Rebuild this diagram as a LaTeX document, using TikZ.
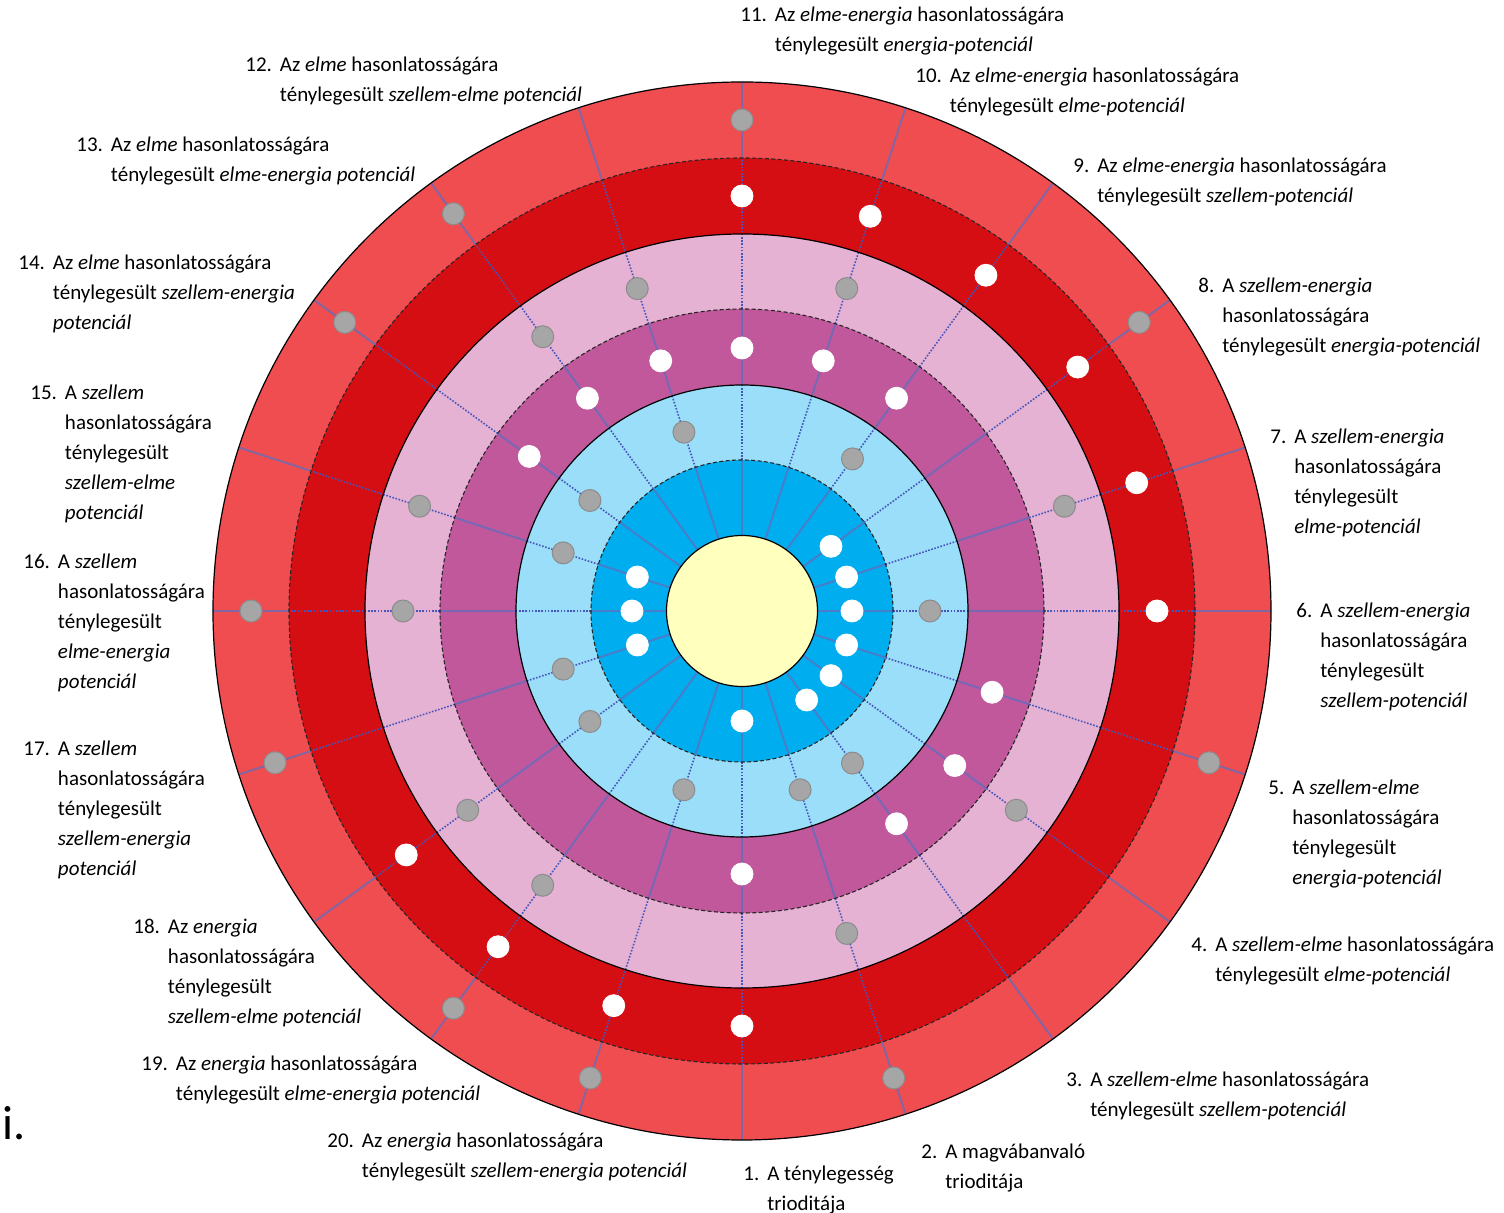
\documentclass[tikz,border=0pt]{standalone}
\usepackage{fontspec}
\setmainfont{Carlito}
\usetikzlibrary{positioning}

\definecolor{colRedOut}{RGB}{240,77,81}
\definecolor{colRedIn}{RGB}{213,14,19}
\definecolor{colPink}{RGB}{229,178,211}
\definecolor{colMagenta}{RGB}{193,88,156}
\definecolor{colSky}{RGB}{154,222,249}
\definecolor{colBlue}{RGB}{0,174,239}
\definecolor{colCore}{RGB}{255,255,190}
\definecolor{spokecol}{RGB}{95,110,190}
\definecolor{spokedotcol}{RGB}{70,85,185}
\definecolor{dotgray}{RGB}{166,166,166}
\definecolor{dotgrayedge}{RGB}{140,140,140}

\begin{document}
\begin{tikzpicture}[
      x=0.5pt, y=0.5pt,
      ring/.style={draw=black, line width=0.6pt},
      dashring/.style={
         draw=black!85,
         line width=0.55pt,
         dash pattern=on 2pt off 1.2pt
      },
      spokefull/.style={draw=spokecol, draw opacity=0.75, line width=1pt},
      spokedot/.style={
         draw=spokedotcol,
         line width=0.8pt,
         dash pattern=on 0.8pt off 0.8pt
      },
      gdot/.style={
         circle,
         inner sep=0pt,
         minimum size=11pt,
         fill=dotgray,
         draw=dotgrayedge,
         line width=0.5pt
      },
      wdot/.style={
         circle,
         inner sep=0pt,
         minimum size=11pt,
         fill=white,
         draw=white
      },
      lab/.style={
         anchor=base west,
         inner sep=0pt,
         font=\fontsize{10.5}{15}\selectfont
      }
    ]
    \useasboundingbox (-742,-602) rectangle (762,611);

    % rings, from the outside in
    \fill[colRedOut]  (0,0) circle (529);
    \fill[colRedIn]   (0,0) circle (453);
    \fill[colPink]    (0,0) circle (377);
    \fill[colMagenta] (0,0) circle (302);
    \fill[colSky]     (0,0) circle (226);
    \fill[colBlue]    (0,0) circle (151);

    % the 20 spokes
    \foreach \k in {1,...,20} {
      \pgfmathsetmacro\a{270+(\k-1)*18}
      \draw[spokefull] (\a:75.5) -- (\a:151);
      \draw[spokedot]  (\a:151)  -- (\a:226);
      \draw[spokefull] (\a:226)  -- (\a:302);
      \draw[spokedot]  (\a:302)  -- (\a:453);
      \draw[spokefull] (\a:453)  -- (\a:529);
    }

    \draw[ring]     (0,0) circle (529);
    \draw[dashring] (0,0) circle (453);
    \draw[ring]     (0,0) circle (377);
    \draw[dashring] (0,0) circle (302);
    \draw[ring]     (0,0) circle (226);
    \draw[dashring] (0,0) circle (151);
    \node (core) [circle, draw=black, line width=0.6pt, fill=colCore,
                  inner sep=0pt, minimum size=75.5pt] at (0,0) {};

    % dots on the spokes
    \foreach \k in {2,5,8,11,13,14,16,17,19,20}
      \node (o\k) [gdot] at ({270+(\k-1)*18}:491) {};
    \foreach \k in {1,6,7,8,9,10,11,18,19,20}
      \node (r\k) [wdot] at ({270+(\k-1)*18}:415) {};
    \foreach \k in {2,4,7,10,12,13,15,16,18,19}
      \node (p\k) [gdot] at ({270+(\k-1)*18}:339) {};
    \foreach \k in {1,3,4,5,9,10,11,12,13,14}
      \node (m\k) [wdot] at ({270+(\k-1)*18}:263) {};
    \foreach \k in {2,3,6,9,12,14,15,17,18,20}
      \node (s\k) [gdot] at ({270+(\k-1)*18}:188) {};
    \foreach \k in {1,3,4,5,6,7,8,15,16,17}
      \node (b\k) [wdot] at ({270+(\k-1)*18}:110) {};

    % labels
    \node (l1) [lab] at (1,-569) {\begin{tabular}[t]{@{}l@{\hspace{4pt}}l@{}}1. & A ténylegesség\\ & trioditája\end{tabular}};
    \node (l2) [lab] at (179,-547) {\begin{tabular}[t]{@{}l@{\hspace{4pt}}l@{}}2. & A magvábanvaló\\ & trioditája\end{tabular}};
    \node (l3) [lab] at (324,-476) {\begin{tabular}[t]{@{}l@{\hspace{4pt}}l@{}}3. & A \emph{szellem-elme} hasonlatosságára\\ & ténylegesült \emph{szellem-potenciál}\end{tabular}};
    \node (l4) [lab] at (449,-341) {\begin{tabular}[t]{@{}l@{\hspace{4pt}}l@{}}4. & A \emph{szellem-elme} hasonlatosságára\\ & ténylegesült \emph{elme-potenciál}\end{tabular}};
    \node (l5) [lab] at (526,-184) {\begin{tabular}[t]{@{}l@{\hspace{4pt}}l@{}}5. & A \emph{szellem-elme}\\ & hasonlatosságára\\ & ténylegesült\\ & \emph{energia-potenciál}\end{tabular}};
    \node (l6) [lab] at (554,-7) {\begin{tabular}[t]{@{}l@{\hspace{4pt}}l@{}}6. & A \emph{szellem-energia}\\ & hasonlatosságára\\ & ténylegesült\\ & \emph{szellem-potenciál}\end{tabular}};
    \node (l7) [lab] at (528,167) {\begin{tabular}[t]{@{}l@{\hspace{4pt}}l@{}}7. & A \emph{szellem-energia}\\ & hasonlatosságára\\ & ténylegesült\\ & \emph{elme-potenciál}\end{tabular}};
    \node (l8) [lab] at (456,318) {\begin{tabular}[t]{@{}l@{\hspace{4pt}}l@{}}8. & A \emph{szellem-energia}\\ & hasonlatosságára\\ & ténylegesült \emph{energia-potenciál}\end{tabular}};
    \node (l9) [lab] at (331,438) {\begin{tabular}[t]{@{}l@{\hspace{4pt}}l@{}}9. & Az \emph{elme-energia} hasonlatosságára\\ & ténylegesült \emph{szellem-potenciál}\end{tabular}};
    \node (l10) [lab] at (173,528) {\begin{tabular}[t]{@{}l@{\hspace{4pt}}l@{}}10. & Az \emph{elme-energia} hasonlatosságára\\ & ténylegesült \emph{elme-potenciál}\end{tabular}};
    \node (l11) [lab] at (-2,589) {\begin{tabular}[t]{@{}l@{\hspace{4pt}}l@{}}11. & Az \emph{elme-energia} hasonlatosságára\\ & ténylegesült \emph{energia-potenciál}\end{tabular}};
    \node (l12) [lab] at (-497,539) {\begin{tabular}[t]{@{}l@{\hspace{4pt}}l@{}}12. & Az \emph{elme} hasonlatosságára\\ & ténylegesült \emph{szellem-elme potenciál}\end{tabular}};
    \node (l13) [lab] at (-666,459) {\begin{tabular}[t]{@{}l@{\hspace{4pt}}l@{}}13. & Az \emph{elme} hasonlatosságára\\ & ténylegesült \emph{elme-energia potenciál}\end{tabular}};
    \node (l14) [lab] at (-724,341) {\begin{tabular}[t]{@{}l@{\hspace{4pt}}l@{}}14. & Az \emph{elme} hasonlatosságára\\ & ténylegesült \emph{szellem-energia}\\ & \emph{potenciál}\end{tabular}};
    \node (l15) [lab] at (-712,211) {\begin{tabular}[t]{@{}l@{\hspace{4pt}}l@{}}15. & A \emph{szellem}\\ & hasonlatosságára\\ & ténylegesült\\ & \emph{szellem-elme}\\ & \emph{potenciál}\end{tabular}};
    \node (l16) [lab] at (-719,42) {\begin{tabular}[t]{@{}l@{\hspace{4pt}}l@{}}16. & A \emph{szellem}\\ & hasonlatosságára\\ & ténylegesült\\ & \emph{elme-energia}\\ & \emph{potenciál}\end{tabular}};
    \node (l17) [lab] at (-719,-145) {\begin{tabular}[t]{@{}l@{\hspace{4pt}}l@{}}17. & A \emph{szellem}\\ & hasonlatosságára\\ & ténylegesült\\ & \emph{szellem-energia}\\ & \emph{potenciál}\end{tabular}};
    \node (l18) [lab] at (-609,-323) {\begin{tabular}[t]{@{}l@{\hspace{4pt}}l@{}}18. & Az \emph{energia}\\ & hasonlatosságára\\ & ténylegesült\\ & \emph{szellem-elme potenciál}\end{tabular}};
    \node (l19) [lab] at (-601,-459) {\begin{tabular}[t]{@{}l@{\hspace{4pt}}l@{}}19. & Az \emph{energia} hasonlatosságára\\ & ténylegesült \emph{elme-energia potenciál}\end{tabular}};
    \node (l20) [lab] at (-415,-537) {\begin{tabular}[t]{@{}l@{\hspace{4pt}}l@{}}20. & Az \emph{energia} hasonlatosságára\\ & ténylegesült \emph{szellem-energia potenciál}\end{tabular}};

    \node (stray) [anchor=base west, inner sep=0pt, font=\fontsize{24}{28}\selectfont] at (-740,-529) {i.};
\end{tikzpicture}
\end{document}
